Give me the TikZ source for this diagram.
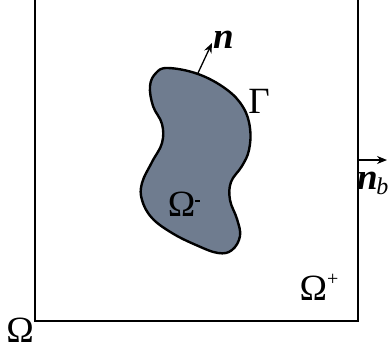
\documentclass[tikz,border=0pt]{standalone}
\usepackage{fontspec}
\setmainfont{Liberation Serif}
\usetikzlibrary{arrows.meta}
\definecolor{blobfill}{HTML}{6F7C8F}
\tikzset{
  lbl/.style={inner sep=0pt, font=\fontsize{37}{40}\selectfont},
  arr/.style={-{Stealth[length=10pt,width=8pt]}, line width=1.3pt},
}
\begin{document}
\begin{tikzpicture}[x=1pt,y=-1pt]
\useasboundingbox (0,0) rectangle (389,349);
\draw[line width=1.6pt] (35,-5) -- (35,321) -- (358,321) -- (358,-5);
\filldraw[fill=blobfill, line width=2.4pt] plot[smooth cycle, tension=0.65] coordinates {
 (168,68) (198,74) (226,89) (243,107) (250,128) (249,150) (242,166) (231,182)
 (230,200) (237,219) (240,236) (232,250) (218,253) (196,245) (172,233) (152,218)
 (142,200) (142,183) (152,162) (162,143) (162,124) (153,106) (150,86) (156,73)};
\coordinate (nbase) at (198,73);
\coordinate (ntip) at (212,43);
\draw[arr] (nbase) -- (ntip);
\node[lbl, anchor=west] (n) at (213,40) {\textbf{\textit{n}}};
\node[lbl] (G) at (259,101) {Γ};
\node[lbl] (Om) at (184,204) {Ω\raisebox{14pt}{\rule{5pt}{2.2pt}}};
\node[lbl] (Op) at (319,287) {Ω\raisebox{15pt}{\fontsize{20}{20}\selectfont +}};
\node[lbl] (O) at (20,330) {Ω};
\coordinate (nbs) at (358,160);
\coordinate (nbt) at (387,160);
\draw[arr] (nbs) -- (nbt);
\node[lbl, anchor=east] (nb) at (388.5,183) {\textbf{\textit{n}}\kern-1.5pt\raisebox{-5pt}{\fontsize{24}{24}\selectfont\textit{b}}};
\end{tikzpicture}
\end{document}
